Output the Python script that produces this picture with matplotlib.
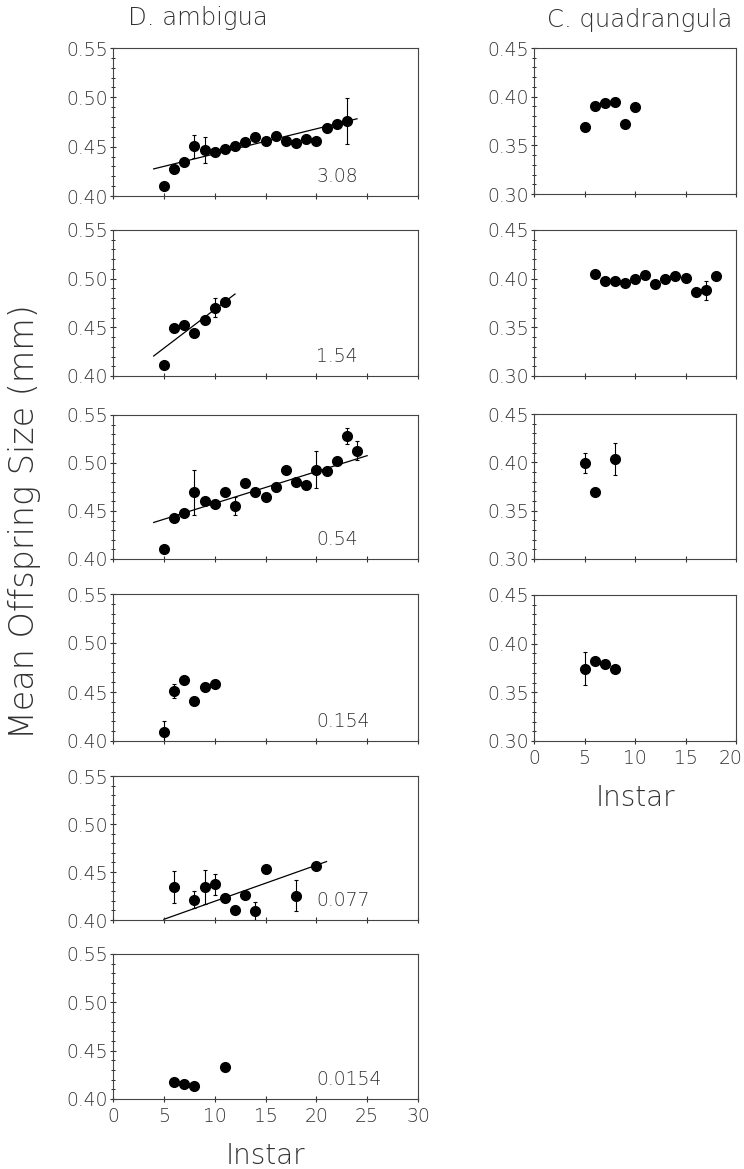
import numpy as np
import matplotlib
matplotlib.use("Agg")
import matplotlib.pyplot as plt
import matplotlib.transforms as mtransforms
from matplotlib.ticker import MultipleLocator

plt.rcParams["font.family"] = ["DejaVu Sans"]
plt.rcParams["font.weight"] = 200
plt.rcParams["axes.labelweight"] = 200

# ---- D. ambigua (left column) ----
amb_labels = ["3.08", "1.54", "0.54", "0.154", "0.077", "0.0154"]

amb1_x = [5, 6, 7, 8, 9, 10, 11, 12, 13, 14, 15, 16, 17, 18, 19, 20, 21, 22, 23]
amb1_y = [0.4105, 0.4275, 0.4349, 0.4502, 0.4468, 0.4444, 0.4478, 0.4502, 0.4546, 0.4600,
          0.4559, 0.4607, 0.4556, 0.4536, 0.4573, 0.4556, 0.4688, 0.4732, 0.4759]
amb1_err = [0, 0, 0, 0.012, 0.013, 0, 0, 0, 0, 0, 0, 0, 0.004, 0, 0, 0, 0, 0, 0.023]

amb2_x = [5, 6, 7, 8, 9, 10, 11]
amb2_y = [0.4110, 0.4497, 0.4521, 0.4445, 0.4572, 0.4702, 0.4760]
amb2_err = [0, 0, 0, 0, 0, 0.010, 0]

amb3_x = [5, 6, 7, 8, 9, 10, 11, 12, 13, 14, 15, 16, 17, 18, 19, 20, 21, 22, 23, 24]
amb3_y = [0.4107, 0.4426, 0.4475, 0.4693, 0.4603, 0.4578, 0.4693, 0.4554, 0.4793, 0.4693,
          0.4651, 0.4752, 0.4925, 0.4803, 0.4769, 0.4932, 0.4921, 0.5022, 0.5282, 0.5128]
amb3_err = [0, 0, 0, 0.023, 0, 0, 0, 0.0095, 0, 0, 0, 0, 0, 0, 0, 0.019, 0, 0, 0.008, 0.010]

amb4_x = [5, 6, 7, 8, 9, 10]
amb4_y = [0.4092, 0.4508, 0.4624, 0.4406, 0.4549, 0.4583]
amb4_err = [0.011, 0.007, 0, 0, 0, 0]

amb5_x = [6, 8, 9, 10, 11, 12, 13, 14, 15, 18, 20]
amb5_y = [0.4343, 0.4211, 0.4343, 0.4374, 0.4232, 0.4104, 0.4260, 0.4094, 0.4533, 0.4253, 0.4565]
amb5_err = [0.017, 0.009, 0.018, 0.011, 0, 0, 0, 0.009, 0, 0.016, 0]

amb6_x = [6, 7, 8, 11]
amb6_y = [0.4172, 0.4155, 0.4138, 0.4331]
amb6_err = [0, 0, 0, 0]

# regression lines: slope, intercept, x start, x end (None = no line)
amb_fits = [(0.00254, 0.4173, 4, 24),
            (0.00796, 0.3887, 4, 12),
            (0.003314, 0.4248, 4, 25),
            None,
            (0.00376, 0.3819, 5, 21),
            None]

# ---- C. quadrangula (right column) ----
quad1_x = [5, 6, 7, 8, 9, 10]
quad1_y = [0.3692, 0.3900, 0.3931, 0.3944, 0.3723, 0.3890]
quad1_err = [0, 0, 0, 0, 0, 0]

quad2_x = [6, 7, 8, 9, 10, 11, 12, 13, 14, 15, 16, 17, 18]
quad2_y = [0.4045, 0.3973, 0.3976, 0.3959, 0.3997, 0.4038, 0.3949, 0.3997, 0.4027,
           0.4010, 0.3863, 0.3880, 0.4027]
quad2_err = [0, 0, 0, 0, 0, 0, 0, 0, 0, 0, 0, 0.010, 0]

quad3_x = [5, 6, 8]
quad3_y = [0.3993, 0.3693, 0.4034]
quad3_err = [0.010, 0, 0.017]

quad4_x = [5, 6, 7, 8]
quad4_y = [0.3743, 0.3818, 0.3791, 0.3743]
quad4_err = [0.017, 0, 0, 0]

amb_data = [(amb1_x, amb1_y, amb1_err), (amb2_x, amb2_y, amb2_err), (amb3_x, amb3_y, amb3_err),
            (amb4_x, amb4_y, amb4_err), (amb5_x, amb5_y, amb5_err), (amb6_x, amb6_y, amb6_err)]
quad_data = [(quad1_x, quad1_y, quad1_err), (quad2_x, quad2_y, quad2_err),
             (quad3_x, quad3_y, quad3_err), (quad4_x, quad4_y, quad4_err)]

W, H = 744, 1169
fig = plt.figure(figsize=(W / 100, H / 100), dpi=100)

left_rows = [(48, 196), (230, 376), (415, 559), (594, 741), (776, 920), (954, 1099)]
right_rows = [(48, 194), (230, 376), (414, 559), (595, 741)]
LC = "#333333"


def style_axes(ax, xlim, ylim, yticks, xticks, show_x):
    ax.set_xlim(*xlim)
    ax.set_ylim(*ylim)
    ax.set_yticks(yticks)
    ax.set_yticklabels([f"{v:.2f}" for v in yticks])
    ax.yaxis.set_minor_locator(MultipleLocator(0.01))
    ax.set_xticks(xticks)
    if show_x:
        ax.set_xticklabels([str(v) for v in xticks])
    else:
        ax.set_xticklabels([])
    ax.tick_params(axis="both", which="major", direction="inout", length=5, width=0.8,
                   labelsize=13.5, colors=LC, pad=1)
    ax.tick_params(axis="y", which="minor", direction="inout", length=3, width=0.6)
    ax.tick_params(axis="x", which="major", pad=3)
    for s in ax.spines.values():
        s.set_linewidth(0.8)
        s.set_color("#444444")


def draw_points(ax, x, y, err):
    x = np.array(x)
    y = np.array(y)
    err = np.array(err)
    m = err > 0
    if m.any():
        ax.errorbar(x[m], y[m], yerr=err[m], fmt="none", ecolor="black",
                    elinewidth=0.8, capsize=1.5, capthick=0.8, zorder=2)
    ax.plot(x, y, "o", color="black", markersize=7, zorder=3, clip_on=False)


for i, (top, bot) in enumerate(left_rows):
    ax = fig.add_axes([113 / W, 1 - bot / H, (418 - 113) / W, (bot - top) / H])
    x, y, err = amb_data[i]
    draw_points(ax, x, y, err)
    fit = amb_fits[i]
    if fit is not None:
        slope, icpt, x0, x1 = fit
        xs = np.array([x0, x1])
        ax.plot(xs, icpt + slope * xs, color="black", linewidth=0.9, zorder=1)
    ax.text(20, 0.42, amb_labels[i], ha="left", va="center", fontsize=13.5, color=LC)
    style_axes(ax, (0, 30), (0.40, 0.55), [0.40, 0.45, 0.50, 0.55],
               [0, 5, 10, 15, 20, 25, 30], i == len(left_rows) - 1)
    if i == len(left_rows) - 1:
        ax.set_xlabel("Instar", fontsize=20, color=LC, labelpad=12)

for i, (top, bot) in enumerate(right_rows):
    ax = fig.add_axes([534 / W, 1 - bot / H, (736 - 534) / W, (bot - top) / H])
    x, y, err = quad_data[i]
    draw_points(ax, x, y, err)
    style_axes(ax, (0, 20), (0.30, 0.45), [0.30, 0.35, 0.40, 0.45],
               [0, 5, 10, 15, 20], i == len(right_rows) - 1)
    if i == len(right_rows) - 1:
        ax.set_xlabel("Instar", fontsize=20, color=LC, labelpad=12)
        # nudge the last label so it stays inside the figure edge
        last = ax.get_xticklabels()[-1]
        shift = mtransforms.ScaledTranslation(-5 / 100, 0, fig.dpi_scale_trans)
        last.set_transform(last.get_transform() + shift)

fig.text(198 / W, 1 - 18 / H, "D. ambigua", ha="center", va="center", fontsize=17.5, color=LC)
fig.text(640 / W, 1 - 20 / H, "C. quadrangula", ha="center", va="center", fontsize=17.5, color=LC)
fig.text(25 / W, 1 - 522 / H, "Mean Offspring Size (mm)", rotation=90,
         ha="center", va="center", fontsize=24, color=LC)

fig.savefig("out.png", dpi=100, facecolor="white")
